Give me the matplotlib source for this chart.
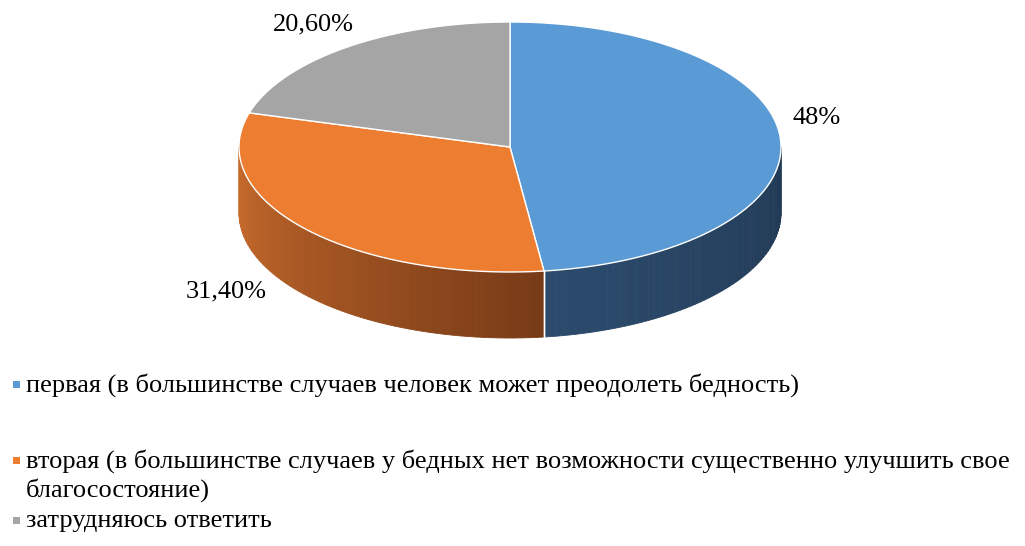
import numpy as np
import matplotlib
matplotlib.use("Agg")
import matplotlib.pyplot as plt
from matplotlib.patches import Polygon, Rectangle
from matplotlib.colors import to_rgb

# data
values = [48.0, 31.4, 20.6]
labels = ["48%", "31,40%", "20,60%"]
legend_lines = [
    ["первая (в большинстве случаев человек может преодолеть бедность)"],
    ["вторая (в большинстве случаев у бедных нет возможности существенно улучшить свое",
     "благосостояние)"],
    ["затрудняюсь ответить"],
]
top_colors = ["#5B9BD5", "#ED7D31", "#A5A5A5"]
side_colors = [("#2C4B6D", "#213A55"), ("#CA6C2C", "#783B17"), ("#7C7C7C", "#5E5E5E")]

# geometry of the tilted pie (pixel units)
cx, cy = 510, 147
rx, ry = 271, 125
depth = 66

plt.rcParams['font.family'] = ['Liberation Serif', 'DejaVu Serif']

fig = plt.figure(figsize=(10.25, 5.46), dpi=100)
ax = fig.add_axes([0, 0, 1, 1])
ax.set_xlim(0, 1025)
ax.set_ylim(546, 0)
ax.axis('off')


def pt(theta_deg, dy=0):
    t = np.radians(theta_deg)
    return cx + rx * np.cos(t), cy - ry * np.sin(t) + dy


cum = np.concatenate([[0], np.cumsum(values)]) / sum(values) * 360
starts = 90 - cum[1:]
ends = 90 - cum[:-1]

# side walls (only front half visible)
for i in range(len(values)):
    a, b = starts[i] % 360, (starts[i] % 360) + (ends[i] - starts[i])
    lo, hi = max(a, 180), min(b, 360)
    if lo >= hi:
        continue
    c0, c1 = np.array(to_rgb(side_colors[i][0])), np.array(to_rgb(side_colors[i][1]))
    n = 60
    edges = np.linspace(lo, hi, n + 1)
    for k in range(n):
        th = np.linspace(edges[k], edges[k + 1], 4)
        top = [pt(t) for t in th]
        bot = [pt(t, depth) for t in th[::-1]]
        f = k / (n - 1)
        col = c0 * (1 - f) + c1 * f
        ax.add_patch(Polygon(top + bot, closed=True, facecolor=col,
                             edgecolor=col, linewidth=0.6))
    # white seam at slice boundaries on the side
    for t in (lo, hi):
        if 180 < t < 360:
            x0, y0 = pt(t)
            ax.plot([x0, x0], [y0, y0 + depth], color='white', lw=1)

# top faces
for i in range(len(values)):
    th = np.linspace(starts[i], ends[i], 200)
    poly = [(cx, cy)] + [pt(t) for t in th]
    ax.add_patch(Polygon(poly, closed=True, facecolor=top_colors[i],
                         edgecolor='white', linewidth=1.0, joinstyle='round'))

# data labels
label_pos = [(817, 118), (226, 291), (313, 24)]
for (x, y), s in zip(label_pos, labels):
    ax.text(x, y, s, fontsize=19, ha='center', va='center', color='black')

# legend
legend_y = [385, 461, 521]
line_h = 29
for i, lines in enumerate(legend_lines):
    y = legend_y[i]
    ax.add_patch(Rectangle((13, y - 4), 7, 7, facecolor=top_colors[i], edgecolor='none'))
    for j, s in enumerate(lines):
        ax.text(26, y + j * line_h, s, fontsize=19, ha='left', va='center', color='black')

fig.savefig("out.png", dpi=100)
